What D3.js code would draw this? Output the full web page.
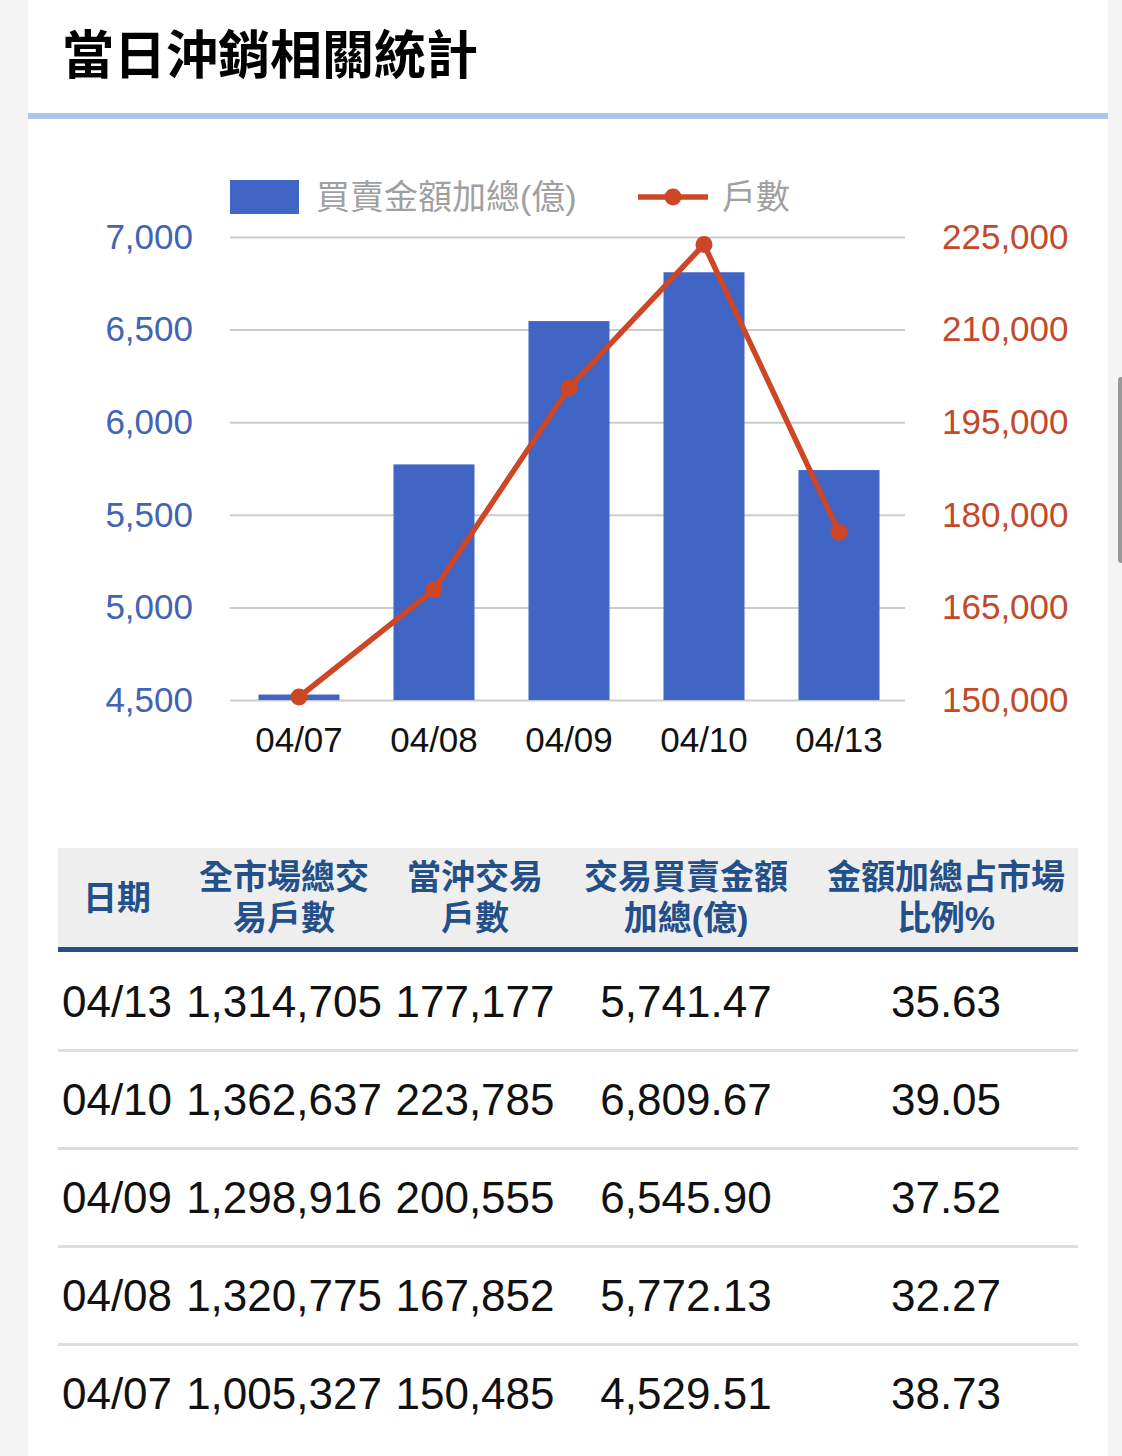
<!DOCTYPE html>
<html>
<head>
<meta charset="utf-8">
<script src="https://cdn.jsdelivr.net/npm/d3@7"></script>
<style>
  html, body { margin: 0; padding: 0; background: #f4f4f4; }
  svg { display: block; }
  text { font-family: "Liberation Sans", Arial, "Noto Sans CJK TC", sans-serif; }
  .cjk { font-family: "Liberation Sans", "Noto Sans CJK TC", sans-serif; }
</style>
</head>
<body>
<script>
// chart data (oldest first)
var dates = ['04/07', '04/08', '04/09', '04/10', '04/13'];
var amounts = [4529.51, 5772.13, 6545.90, 6809.67, 5741.47];
var dayTradeAccounts = [150485, 167852, 200555, 223785, 177177];
var marketAccounts = [1005327, 1320775, 1298916, 1362637, 1314705];
var ratios = [38.73, 32.27, 37.52, 39.05, 35.63];

var leftTicks = [4500, 5000, 5500, 6000, 6500, 7000];
var rightTicks = [150000, 165000, 180000, 195000, 210000, 225000];

var headers = [
  ['日期'],
  ['全市場總交', '易戶數'],
  ['當沖交易', '戶數'],
  ['交易買賣金額', '加總(億)'],
  ['金額加總占市場', '比例%']
];

var BLUE = '#4165c4';
var RED = '#cd4626';

var width = 1122;
var height = 1456;

var svg = d3.select('body').append('svg')
  .attr('width', width)
  .attr('height', height);

// card + page chrome
svg.append('rect').attr('x', 28).attr('y', 0).attr('width', 1080).attr('height', height).attr('fill', '#fff');
svg.append('rect').attr('x', 1118).attr('y', 377).attr('width', 6).attr('height', 186).attr('rx', 3).attr('fill', '#9a9a9a');

svg.append('text')
  .attr('class', 'cjk')
  .attr('x', 62)
  .attr('y', 74)
  .attr('font-size', 52)
  .attr('font-weight', 'bold')
  .attr('fill', '#000')
  .text('當日沖銷相關統計');

svg.append('rect').attr('x', 28).attr('y', 113).attr('width', 1080).attr('height', 6).attr('fill', '#aec5ec');

// ---- chart ----
var plot = { left: 230, right: 905, top: 237, bottom: 700 };

var x = d3.scaleBand()
  .domain(dates)
  .range([plot.left + 1.5, plot.right + 1.5])
  .paddingInner(0.4)
  .paddingOuter(0.2);

var yLeft = d3.scaleLinear().domain([4500, 7000]).range([plot.bottom, plot.top]);
var yRight = d3.scaleLinear().domain([150000, 225000]).range([plot.bottom, plot.top]);

// gridlines
svg.append('g')
  .attr('transform', 'translate(' + plot.left + ',0)')
  .call(d3.axisLeft(yLeft).tickValues(leftTicks).tickSize(-(plot.right - plot.left)).tickFormat(''))
  .call(function(g) {
    g.select('.domain').remove();
    g.selectAll('line').attr('stroke', '#cccccc').attr('stroke-width', 2);
  });

var leftAxis = svg.append('g')
  .attr('transform', 'translate(' + plot.left + ',0)')
  .call(d3.axisLeft(yLeft).tickValues(leftTicks).tickSize(0).tickPadding(37).tickFormat(d3.format(',')));
leftAxis.select('.domain').remove();
leftAxis.selectAll('text').attr('font-size', 35).attr('fill', '#4263b6').attr('font-family', null);

var rightAxis = svg.append('g')
  .attr('transform', 'translate(' + plot.right + ',0)')
  .call(d3.axisRight(yRight).tickValues(rightTicks).tickSize(0).tickPadding(37).tickFormat(d3.format(',')));
rightAxis.select('.domain').remove();
rightAxis.selectAll('text').attr('font-size', 35).attr('fill', '#c24a2a').attr('font-family', null);

var bottomAxis = svg.append('g')
  .attr('transform', 'translate(0,' + plot.bottom + ')')
  .call(d3.axisBottom(x).tickSize(0).tickPadding(27));
bottomAxis.select('.domain').remove();
bottomAxis.selectAll('text').attr('font-size', 35).attr('fill', '#111').attr('font-family', null);

// bars
svg.append('g').selectAll('rect')
  .data(dates)
  .enter().append('rect')
    .attr('x', function(d) { return x(d); })
    .attr('width', x.bandwidth())
    .attr('y', function(d, i) { return yLeft(amounts[i]); })
    .attr('height', function(d, i) { return plot.bottom - yLeft(amounts[i]); })
    .attr('fill', BLUE);

// line
var line = d3.line()
  .x(function(d, i) { return x(dates[i]) + x.bandwidth() / 2; })
  .y(function(d) { return yRight(d); });

svg.append('path')
  .datum(dayTradeAccounts)
  .attr('d', line)
  .attr('fill', 'none')
  .attr('stroke', RED)
  .attr('stroke-width', 5.5)
  .attr('stroke-linejoin', 'round');

svg.append('g').selectAll('circle')
  .data(dayTradeAccounts)
  .enter().append('circle')
    .attr('cx', function(d, i) { return x(dates[i]) + x.bandwidth() / 2; })
    .attr('cy', function(d) { return yRight(d); })
    .attr('r', 8.5)
    .attr('fill', RED);

// legend
var legend = svg.append('g');
legend.append('rect').attr('x', 230).attr('y', 180).attr('width', 69).attr('height', 34).attr('fill', BLUE);
legend.append('text').attr('class', 'cjk').attr('x', 316).attr('y', 197).attr('dy', '0.35em')
  .attr('font-size', 34).attr('fill', '#a0a0a0').text('買賣金額加總(億)');
legend.append('line').attr('x1', 638).attr('x2', 708).attr('y1', 197).attr('y2', 197)
  .attr('stroke', RED).attr('stroke-width', 5.5);
legend.append('circle').attr('cx', 673).attr('cy', 197).attr('r', 8.5).attr('fill', RED);
legend.append('text').attr('class', 'cjk').attr('x', 722).attr('y', 197).attr('dy', '0.35em')
  .attr('font-size', 34).attr('fill', '#a0a0a0').text('戶數');

// ---- table ----
var colX = [117, 284, 475, 686, 946];
var tableLeft = 58;
var tableRight = 1078;

svg.append('rect').attr('x', tableLeft).attr('y', 848).attr('width', tableRight - tableLeft).attr('height', 100).attr('fill', '#eeeeee');
svg.append('rect').attr('x', tableLeft).attr('y', 947).attr('width', tableRight - tableLeft).attr('height', 5).attr('fill', '#2b4f7c');

var head = svg.append('g').selectAll('text')
  .data(headers)
  .enter().append('text')
    .attr('class', 'cjk')
    .attr('text-anchor', 'middle')
    .attr('font-size', 34)
    .attr('font-weight', 'bold')
    .attr('fill', '#24508a');

head.each(function(lines, i) {
  var t = d3.select(this);
  if (lines.length === 1) {
    t.append('tspan').attr('x', colX[i]).attr('y', 898).attr('dy', '0.36em').text(lines[0]);
  } else {
    t.append('tspan').attr('x', colX[i]).attr('y', 877).attr('dy', '0.36em').text(lines[0]);
    t.append('tspan').attr('x', colX[i]).attr('y', 918).attr('dy', '0.36em').text(lines[1]);
  }
});

// newest first in the table
var rows = dates.map(function(d, i) {
  return [
    d,
    d3.format(',')(marketAccounts[i]),
    d3.format(',')(dayTradeAccounts[i]),
    d3.format(',.2f')(amounts[i]),
    d3.format('.2f')(ratios[i])
  ];
}).reverse();

var rowY = d3.scaleLinear().domain([0, 1]).range([1001, 1099]);

var rowSel = svg.append('g').selectAll('g')
  .data(rows)
  .enter().append('g');

rowSel.selectAll('text')
  .data(function(r) { return r; })
  .enter().append('text')
    .attr('x', function(d, i) { return colX[i]; })
    .attr('text-anchor', 'middle')
    .attr('font-size', 44)
    .attr('fill', '#111')
    .text(function(d) { return d; });

rowSel.each(function(r, i) {
  d3.select(this).selectAll('text').attr('y', rowY(i)).attr('dy', '0.36em');
  if (i < rows.length - 1) {
    d3.select(this).append('rect')
      .attr('x', tableLeft)
      .attr('y', rowY(i) + 48)
      .attr('width', tableRight - tableLeft)
      .attr('height', 3)
      .attr('fill', '#dddddd');
  }
});
</script>
</body>
</html>
